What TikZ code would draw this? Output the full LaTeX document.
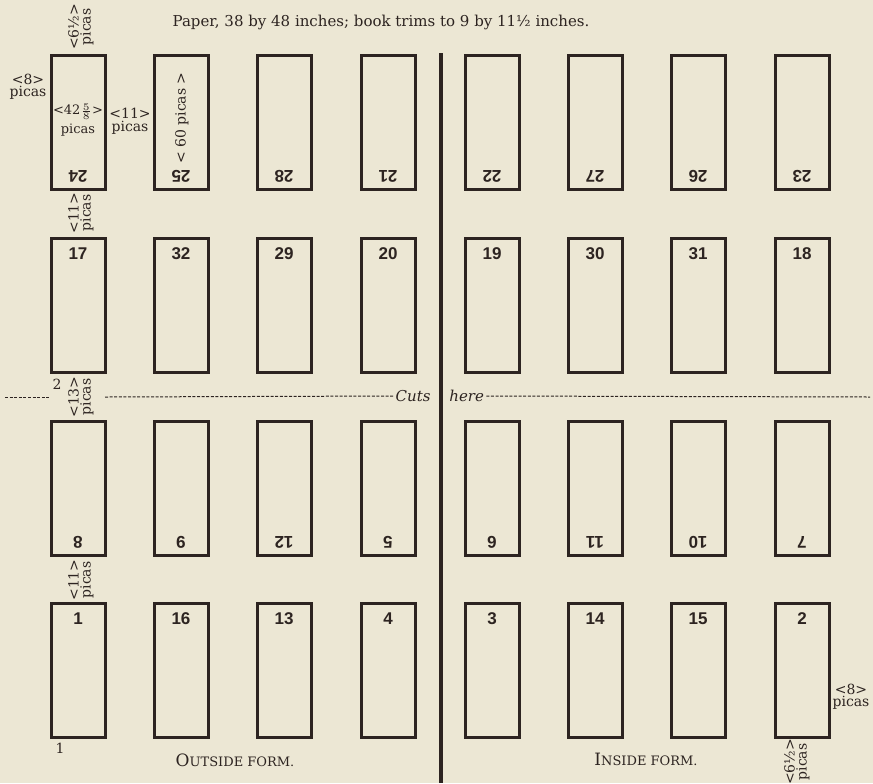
\documentclass[tikz,border=0pt]{standalone}
\usepackage{fontspec}
\setmainfont{DejaVu Serif}
\setsansfont{Liberation Sans}
\usetikzlibrary{positioning}

\definecolor{paper}{RGB}{236,231,212}
\definecolor{ink}{RGB}{45,36,33}

\tikzset{
  pg/.style={draw=ink, line width=1.5pt, minimum width=27pt, minimum height=67pt, inner sep=0pt},
  num/.style={text=ink, font=\sffamily\bfseries\fontsize{8.5}{8.5}\selectfont, inner sep=0pt},
  lbl/.style={text=ink, font=\fontsize{7}{6}\selectfont, align=center, inner sep=0pt},
  cutlbl/.style={text=ink, font=\itshape\fontsize{7.5}{8}\selectfont, inner sep=1pt},
  cutline/.style={draw=ink, line width=0.5pt, dash pattern=on 1.5pt off 0.8pt},
}

\begin{document}
\begin{tikzpicture}[x=0.5pt,y=-0.5pt]
  \fill[paper] (0,0) rectangle (873,783);
  \useasboundingbox (0,0) rectangle (873,783);

  \node[text=ink, font=\fontsize{7.5}{9}\selectfont, anchor=base] (title) at (381,26)
    {Paper, 38 by 48 inches; book trims to 9 by 11½ inches.};

  % top row, heads down
  \foreach \n/\x in {24/78,25/181,28/284,21/388,22/492,27/595,26/698,23/802}{
    \node[pg] (r\n) at (\x,122) {};
    \node[num,rotate=180] (n\n) at ([yshift=7pt]r\n.south) {\n};
  }
  % second row
  \foreach \n/\x in {17/78,32/181,29/284,20/388,19/492,30/595,31/698,18/802}{
    \node[pg] (r\n) at (\x,305) {};
    \node[num,below=5.5pt of r\n.north] (n\n) {\n};
  }
  % third row, heads down
  \foreach \n/\x in {8/78,9/181,12/284,5/388,6/492,11/595,10/698,7/802}{
    \node[pg] (r\n) at (\x,488) {};
    \node[num,rotate=180] (n\n) at ([yshift=7pt]r\n.south) {\n};
  }
  % bottom row
  \foreach \n/\x in {1/78,16/181,13/284,4/388,3/492,14/595,15/698,2/802}{
    \node[pg] (r\n) at (\x,670) {};
    \node[num,below=5.5pt of r\n.north] (n\n) {\n};
  }

  % margins and gutters
  \node[lbl,rotate=90] (headm) at (81,27) {<6½>\\picas};
  \node[lbl] (sidem) at (28,87) {<8>\\picas};
  \node[lbl,font=\fontsize{6.5}{6}\selectfont] (pagew) at (78,120)
    {<42${\scriptstyle\frac{5}{8}}$>\\[1pt]picas};
  \node[lbl] (gutw) at (130,121) {<11>\\[0.5pt]picas};
  \node[lbl,rotate=90] (pageh) at (182,118) {< 60 picas >};
  \node[lbl,rotate=90] (gapa) at (81,213) {<11>\\picas};
  \node[lbl] (two) at (57,384) {2};
  \node[lbl,rotate=90] (gapb) at (81,397) {<13>\\picas};
  \node[lbl,rotate=90] (gapc) at (81,580) {<11>\\picas};
  \node[lbl] (one) at (60,748) {1};
  \node[lbl] (sidemr) at (851,697) {<8>\\picas};
  \node[lbl,rotate=90] (footm) at (797,762) {<6½>\\picas};

  % cutting line
  \coordinate (cuta) at (5,397);
  \coordinate (cutb) at (50,397);
  \coordinate (cutc) at (105,397);
  \coordinate (cutd) at (870,397);
  \node[cutlbl,anchor=east] (cuts) at (433,396) {Cuts};
  \node[cutlbl,anchor=west] (here) at (447,396) {here};
  \draw[cutline] (cuta) -- (cutb);
  \draw[cutline] (cutc) -- (cuts.west);
  \draw[cutline] (here.east) -- (cutd);

  % fold between the forms
  \coordinate (divt) at (441,53);
  \coordinate (divb) at (441,783);
  \draw[ink, line width=2pt] (divt) -- (divb);

  \node[text=ink] (outf) at (235,760)
    {{\fontsize{8.5}{9}\selectfont O}{\fontsize{6.5}{9}\selectfont UTSIDE FORM.}};
  \node[text=ink] (inf) at (646,759)
    {{\fontsize{8.5}{9}\selectfont I}{\fontsize{6.5}{9}\selectfont NSIDE FORM.}};
\end{tikzpicture}
\end{document}
